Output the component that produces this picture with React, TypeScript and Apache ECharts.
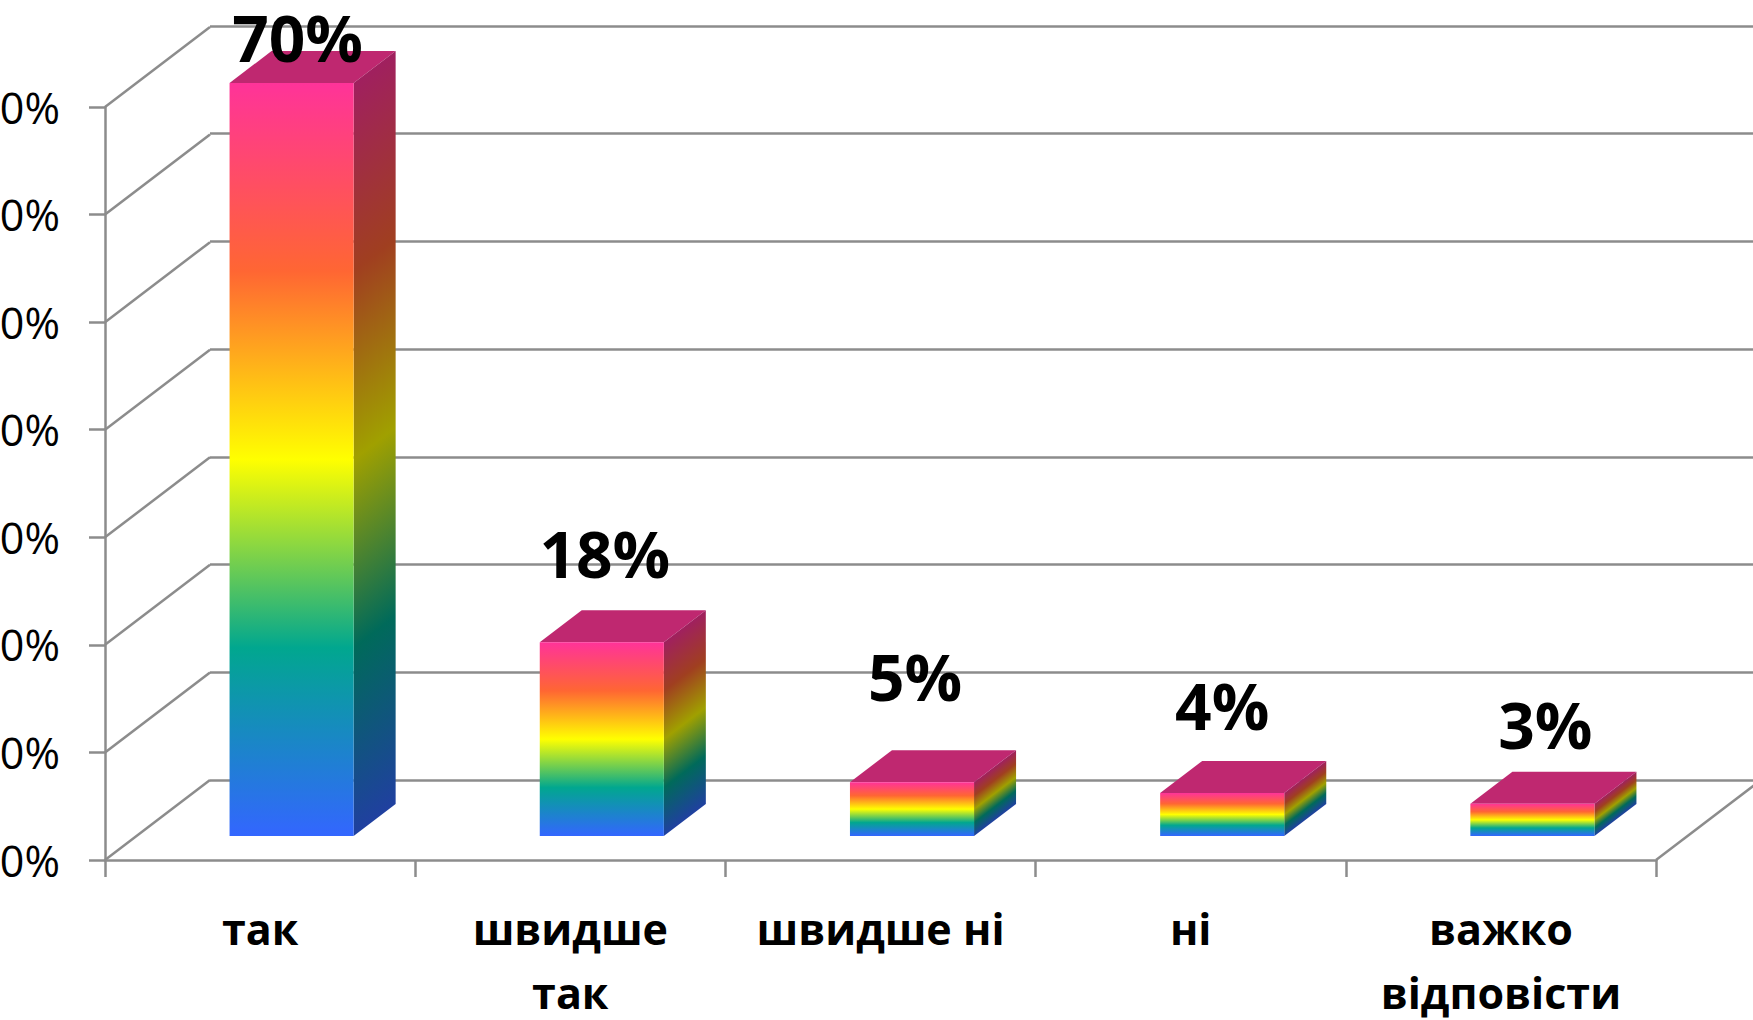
import React, { useEffect, useRef } from "react";
import * as echarts from "echarts";

const categories = ["так", "швидше\nтак", "швидше ні", "ні", "важко\nвідповісти"];
const values = [70, 18, 5, 4, 3];
const yMax = 70;
const yStep = 10;
const yTicks = [0, 10, 20, 30, 40, 50, 60, 70];

// layout constants (pixels), not data
const WALL = { dx: 105, dy: -80 };
const BAR = { floorDx: 31.5, floorDy: -24, dx: 42, dy: -32 };
const LABEL_SHIFT = [[6, -46], [3, -89], [3, -106], [0, -87], [13, -79]];
const GREY = "#8c8c8c";
const LINE_W = 2.5;
const STOPS = [
  { offset: 0, color: "#ff3399" },
  { offset: 0.25, color: "#ff6633" },
  { offset: 0.5, color: "#ffff00" },
  { offset: 0.75, color: "#01a78f" },
  { offset: 1, color: "#3366ff" },
];
const SIDE_STOPS = [
  { offset: 0, color: "#a0205f" },
  { offset: 0.25, color: "#a03f20" },
  { offset: 0.5, color: "#a0a000" },
  { offset: 0.75, color: "#006a5a" },
  { offset: 1, color: "#2040a0" },
];
const TOP_FILL = "#bf2870";
const FONT = "'Open Sans', sans-serif";

export default function App() {
  const ref = useRef<HTMLDivElement>(null);
  useEffect(() => {
    const chart = echarts.init(ref.current!, undefined, { renderer: "svg" });
    chart.setOption({
      animation: false,
      backgroundColor: "#ffffff",
      grid: [
        { left: 105, right: 97, top: 107, bottom: 160, containLabel: false, outerBoundsMode: "none" },
        { left: 210, right: 0, top: 26, bottom: 240, containLabel: false, outerBoundsMode: "none" },
      ],
      xAxis: [
        {
          gridIndex: 0,
          type: "category",
          data: categories,
          axisLine: { show: true, lineStyle: { color: GREY, width: LINE_W } },
          axisTick: { show: true, length: 17, lineStyle: { color: GREY, width: LINE_W } },
          axisLabel: {
            interval: 0,
            margin: 36,
            fontFamily: FONT,
            fontWeight: "bold",
            fontSize: 43,
            lineHeight: 64,
            color: "#000",
          },
        },
        { gridIndex: 1, type: "category", data: categories, show: false },
      ],
      yAxis: [
        {
          gridIndex: 0,
          type: "value",
          min: 0,
          max: yMax,
          interval: yStep,
          axisLine: { show: true, lineStyle: { color: GREY, width: LINE_W } },
          axisTick: { show: true, length: 16, lineStyle: { color: GREY, width: LINE_W } },
          splitLine: { show: false },
          axisLabel: {
            margin: 45,
            padding: [4, 0, 0, 0],
            formatter: "{value}%",
            fontFamily: FONT,
            fontSize: 43,
            color: "#000",
            hideOverlap: false,
          },
        },
        {
          gridIndex: 1,
          type: "value",
          min: 0,
          max: yMax,
          interval: yStep,
          axisLine: { show: false },
          axisTick: { show: false },
          axisLabel: { show: false },
          splitLine: { show: true, lineStyle: { color: GREY, width: LINE_W, type: "solid" } },
        },
      ],
      series: [
        {
          type: "custom",
          name: "walls",
          xAxisIndex: 0,
          yAxisIndex: 0,
          silent: true,
          clip: false,
          z: 1,
          data: yTicks.map((t) => [0, t]),
          renderItem: (params: any, api: any) => {
            const rect = params.coordSys;
            const y = api.coord([0, api.value(1)])[1];
            const lines: any[] = [
              {
                type: "line",
                shape: { x1: rect.x, y1: y, x2: rect.x + WALL.dx, y2: y + WALL.dy },
                style: { stroke: GREY, lineWidth: LINE_W, fill: "none" },
              },
            ];
            if (params.dataIndex === 0) {
              const xr = rect.x + rect.width;
              lines.push({
                type: "line",
                shape: { x1: xr, y1: y, x2: xr + WALL.dx, y2: y + WALL.dy },
                style: { stroke: GREY, lineWidth: LINE_W, fill: "none" },
              });
            }
            return { type: "group", children: lines };
          },
        },
        {
          type: "custom",
          name: "bars",
          xAxisIndex: 0,
          yAxisIndex: 0,
          clip: false,
          z: 5,
          data: values.map((v, i) => [i, v]),
          renderItem: (params: any, api: any) => {
            const i = params.dataIndex;
            const v = api.value(1);
            const band = api.size([1, 0])[0];
            const w = band * 0.4;
            const center = api.coord([i, 0])[0] + BAR.floorDx;
            const x0 = center - w / 2;
            const x1 = center + w / 2;
            const yBase = api.coord([i, 0])[1] + BAR.floorDy;
            const yTop = api.coord([i, v])[1] + BAR.floorDy;
            const h = yBase - yTop;
            const front = new echarts.graphic.LinearGradient(0, 0, 0, 1, STOPS);
            const len2 = BAR.dx * BAR.dx + BAR.dy * BAR.dy;
            const nx = -BAR.dy;
            const ny = BAR.dx;
            const k = (h * ny) / len2;
            const side = new echarts.graphic.LinearGradient(
              x1, yTop, x1 + nx * k, yTop + ny * k, SIDE_STOPS, true
            );
            const s = LABEL_SHIFT[i];
            return {
              type: "group",
              children: [
                {
                  type: "polygon",
                  shape: {
                    points: [[x0, yTop], [x1, yTop], [x1 + BAR.dx, yTop + BAR.dy], [x0 + BAR.dx, yTop + BAR.dy]],
                  },
                  style: { fill: TOP_FILL },
                },
                {
                  type: "polygon",
                  shape: {
                    points: [[x1, yTop], [x1 + BAR.dx, yTop + BAR.dy], [x1 + BAR.dx, yBase + BAR.dy], [x1, yBase]],
                  },
                  style: { fill: side },
                },
                {
                  type: "rect",
                  shape: { x: x0, y: yTop, width: w, height: h },
                  style: { fill: front },
                },
                {
                  type: "text",
                  z2: 100,
                  style: {
                    text: `${v}%`,
                    x: center + s[0],
                    y: yTop + s[1],
                    align: "center",
                    verticalAlign: "middle",
                    fontFamily: FONT,
                    fontWeight: "bold",
                    fontSize: 64,
                    fill: "#000",
                  },
                },
              ],
            };
          },
        },
      ],
    });
    return () => chart.dispose();
  }, []);
  return (
    <div
      ref={ref}
      style={{ position: "absolute", left: 0, top: 0, width: 1753, height: 1020 }}
    />
  );
}
